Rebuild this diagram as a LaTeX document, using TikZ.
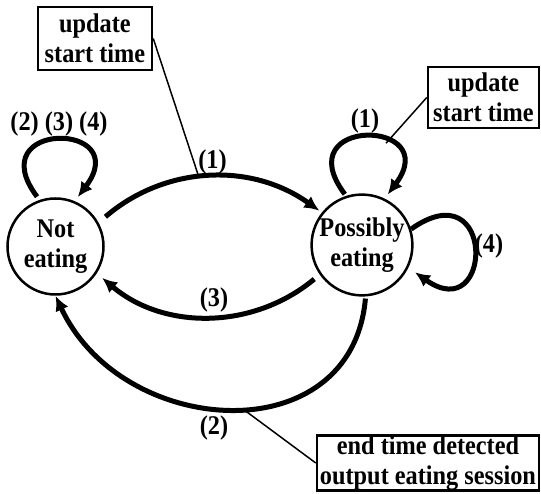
\documentclass[tikz,border=0pt]{standalone}
\usepackage{fontspec}
\setmainfont{Liberation Serif}[FakeStretch=0.9]
\usetikzlibrary{arrows.meta}

\begin{document}
\begin{tikzpicture}[
  x=1pt, y=1pt,
  every node/.style={
    font=\fontsize{27}{30}\selectfont\bfseries,
  },
  state/.style={
    circle, draw, line width=2.5pt,
    minimum size=96pt, inner sep=0pt, align=center
  },
  note/.style={
    rectangle, draw, line width=2.5pt,
    inner sep=0pt, align=center
  },
  trans/.style={
    line width=5pt, -{Latex[length=15pt,width=14pt]}
  },
  pointer/.style={line width=1.5pt},
  lbl/.style={inner sep=0pt}
  ]
  \useasboundingbox (0,0) rectangle (541,494);

  % states
  \node[state] (ne) at (55.5,247.5) {Not\\eating};
  \node[state] (pe) at (362,249) {Possibly\\eating};

  % notes
  \node[note, minimum width=114pt, minimum height=63pt] (box1) at (95,455.5)
    {update\\start time};
  \node[note, minimum width=111pt, minimum height=61pt] (box2) at (483.5,396.5)
    {update\\start time};
  \node[note, minimum width=222pt, minimum height=54pt] (box3) at (428,31)
    {end time detected\\output eating session};

  % transitions
  \draw[trans, shorten <=9pt, shorten >=3pt] (ne.29)
    to[bend left=38] coordinate[pos=0.46] (on1) (pe.141);
  \draw[trans, shorten <=7pt, shorten >=7pt] (pe.215)
    to[bend left=40] (ne.-33);
  \draw[trans, shorten <=2pt] (pe.-86)
    to[out=-95, in=-65, looseness=1.3] coordinate[pos=0.47] (on2) (ne.-90);

  % self loops
  \draw[trans, shorten <=4pt, shorten >=5pt] (ne.109)
    .. controls +(-60,80) and +(60,80) .. (ne.67);
  \draw[trans, shorten <=2pt, shorten >=5pt] (pe.108)
    .. controls +(-60,80) and +(60,80) .. coordinate[pos=0.65] (on3) (pe.64);
  \draw[trans, shorten >=8pt] (pe.18)
    .. controls +(85,60) and +(85,-60) .. (pe.-26);

  % labels
  \node[lbl] (l234) at (59,370) {(2) (3) (4)};
  \node[lbl] (l1a) at (212.5,331.5) {(1)};
  \node[lbl] (l3) at (214,193.5) {(3)};
  \node[lbl] (l2) at (214,65.5) {(2)};
  \node[lbl] (l1b) at (365,373) {(1)};
  \node[lbl] (l4) at (489,247.5) {(4)};

  % note pointers
  \draw[pointer] (box1.east) -- (on1);
  \draw[pointer] (box2.west) -- (on3);
  \draw[pointer] (box3.west) -- (on2);
\end{tikzpicture}
\end{document}
